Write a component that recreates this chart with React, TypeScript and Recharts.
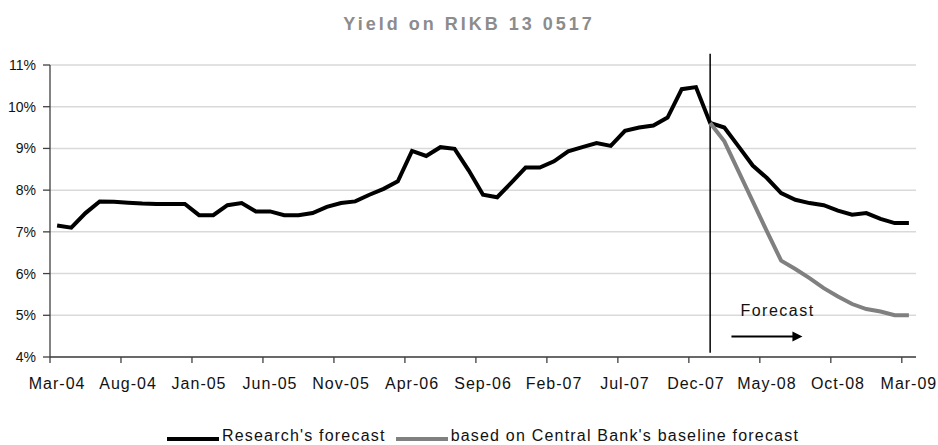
import React from "react";
import {
  CartesianGrid,
  Legend,
  Line,
  LineChart,
  ReferenceLine,
  XAxis,
  YAxis,
} from "recharts";

const months = [
  "Mar-04", "Apr-04", "May-04", "Jun-04", "Jul-04", "Aug-04", "Sep-04", "Oct-04", "Nov-04", "Dec-04",
  "Jan-05", "Feb-05", "Mar-05", "Apr-05", "May-05", "Jun-05", "Jul-05", "Aug-05", "Sep-05", "Oct-05",
  "Nov-05", "Dec-05", "Jan-06", "Feb-06", "Mar-06", "Apr-06", "May-06", "Jun-06", "Jul-06", "Aug-06",
  "Sep-06", "Oct-06", "Nov-06", "Dec-06", "Jan-07", "Feb-07", "Mar-07", "Apr-07", "May-07", "Jun-07",
  "Jul-07", "Aug-07", "Sep-07", "Oct-07", "Nov-07", "Dec-07", "Jan-08", "Feb-08", "Mar-08", "Apr-08",
  "May-08", "Jun-08", "Jul-08", "Aug-08", "Sep-08", "Oct-08", "Nov-08", "Dec-08", "Jan-09", "Feb-09",
  "Mar-09",
];

// Research's forecast (actual yields up to Dec-07, then forecast)
const research = [
  7.15, 7.1, 7.45, 7.73, 7.72, 7.7, 7.68, 7.67, 7.67, 7.67,
  7.4, 7.4, 7.64, 7.69, 7.49, 7.49, 7.4, 7.4, 7.45, 7.6,
  7.69, 7.73, 7.89, 8.03, 8.21, 8.94, 8.82, 9.03, 8.99, 8.47,
  7.89, 7.83, 8.18, 8.54, 8.54, 8.69, 8.93, 9.03, 9.13, 9.06,
  9.42, 9.5, 9.55, 9.74, 10.42, 10.47, 9.61, 9.5, 9.05, 8.59,
  8.29, 7.93, 7.77, 7.69, 7.64, 7.51, 7.41, 7.45, 7.31, 7.21,
  7.21,
];

// based on Central Bank's baseline forecast, from Jan-08
const baselineStart = "Jan-08";
const baseline = [
  9.61, 9.17, 8.45, 7.73, 7.01, 6.31, 6.11, 5.89, 5.65, 5.45, 5.27, 5.15, 5.09, 5.0, 5.0,
];

const yTicks = [4, 5, 6, 7, 8, 9, 10, 11];

const startIdx = months.indexOf(baselineStart);
const data = months.map((m, i) => ({
  month: m,
  research: research[i],
  baseline: i >= startIdx ? baseline[i - startIdx] : null,
}));

const W = 938;
const H = 445;
const M = { top: 65, right: 22, bottom: 0, left: 0 };
const Y_W = 50;
const plotW = W - M.left - M.right - Y_W;
const half = plotW / months.length / 2;
const FONT = "'Liberation Sans', Arial, sans-serif";
const AXIS = "#404040";

const MonthTick = (props: any) => {
  const { x, y, payload } = props;
  return (
    <g>
      <line x1={x - half} y1={y} x2={x - half} y2={y + 6} stroke={AXIS} strokeWidth={1.3} />
      <text
        x={x}
        y={y + 32}
        textAnchor="middle"
        fontSize={16}
        letterSpacing={1}
        fill="#111"
        fontFamily={FONT}
      >
        {payload.value}
      </text>
    </g>
  );
};

const ForecastArrow = (props: any) => {
  const { x1, y1, x2 } = props;
  const a = x1 + half;
  const b = x2 + half;
  return (
    <g>
      <line x1={a} y1={y1} x2={b - 8} y2={y1} stroke="#000" strokeWidth={2} />
      <polygon points={`${b},${y1} ${b - 10},${y1 - 5} ${b - 10},${y1 + 5}`} fill="#000" />
      <text
        x={a + 9}
        y={y1 - 21}
        fontSize={16}
        letterSpacing={1.5}
        fill="#111"
        fontFamily={FONT}
      >
        Forecast
      </text>
    </g>
  );
};

const legendItems = [
  { label: "Research's forecast", color: "#000" },
  { label: "based on Central Bank's baseline forecast", color: "#808080" },
];

const renderLegend = () => (
  <div
    style={{
      height: 18,
      display: "flex",
      justifyContent: "center",
      alignItems: "center",
      fontFamily: FONT,
      fontSize: 16,
      letterSpacing: 1.2,
      color: "#111",
    }}
  >
    {legendItems.map((it, i) => (
      <div key={it.label} style={{ display: "flex", alignItems: "center", marginLeft: i ? 10 : 0 }}>
        <div style={{ width: 52, height: 4, background: it.color, marginRight: 3, marginTop: 5 }} />
        <span>{it.label}</span>
      </div>
    ))}
  </div>
);

export default function App() {
  return (
    <div style={{ position: "absolute", top: 0, left: 0, width: W, height: H, background: "#fff" }}>
      <div
        style={{
          position: "absolute",
          top: 14,
          left: 0,
          width: W,
          textAlign: "center",
          fontFamily: FONT,
          fontWeight: "bold",
          fontSize: 18,
          letterSpacing: 3,
          color: "#8c8c8c",
        }}
      >
        Yield on RIKB 13 0517
      </div>
      <LineChart width={W} height={H} data={data} margin={M}>
        <CartesianGrid vertical={false} stroke="#d9d9d9" strokeWidth={1.5} />
        <XAxis
          dataKey="month"
          interval={4}
          padding={{ left: half, right: half }}
          axisLine={{ stroke: AXIS, strokeWidth: 1.3 }}
          tickLine={false}
          tickSize={0}
          tickMargin={0}
          height={70}
          tick={<MonthTick />}
        />
        <YAxis
          domain={[4, 11]}
          ticks={yTicks}
          width={Y_W}
          tickFormatter={(v) => `${v}%`}
          axisLine={{ stroke: AXIS, strokeWidth: 1.3 }}
          tickLine={{ stroke: AXIS, strokeWidth: 1.3 }}
          tickSize={7}
          tickMargin={7}
          tick={{ fontSize: 14, fill: "#111", fontFamily: FONT }}
        />
        <ReferenceLine
          segment={[
            { x: baselineStart, y: 11.27 },
            { x: baselineStart, y: 4.1 },
          ]}
          ifOverflow="visible"
          stroke="#000"
          strokeWidth={1.5}
        />
        <ReferenceLine
          segment={[
            { x: "Feb-08", y: 4.49 },
            { x: "Jul-08", y: 4.49 },
          ]}
          ifOverflow="visible"
          shape={<ForecastArrow />}
        />
        <Line
          dataKey="research"
          name="Research's forecast"
          stroke="#000"
          strokeWidth={4}
          dot={false}
          isAnimationActive={false}
        />
        <Line
          dataKey="baseline"
          name="based on Central Bank's baseline forecast"
          stroke="#808080"
          strokeWidth={4}
          dot={false}
          isAnimationActive={false}
        />
        <Legend verticalAlign="bottom" content={renderLegend} wrapperStyle={{ left: 50, width: 866 }} />
      </LineChart>
    </div>
  );
}
